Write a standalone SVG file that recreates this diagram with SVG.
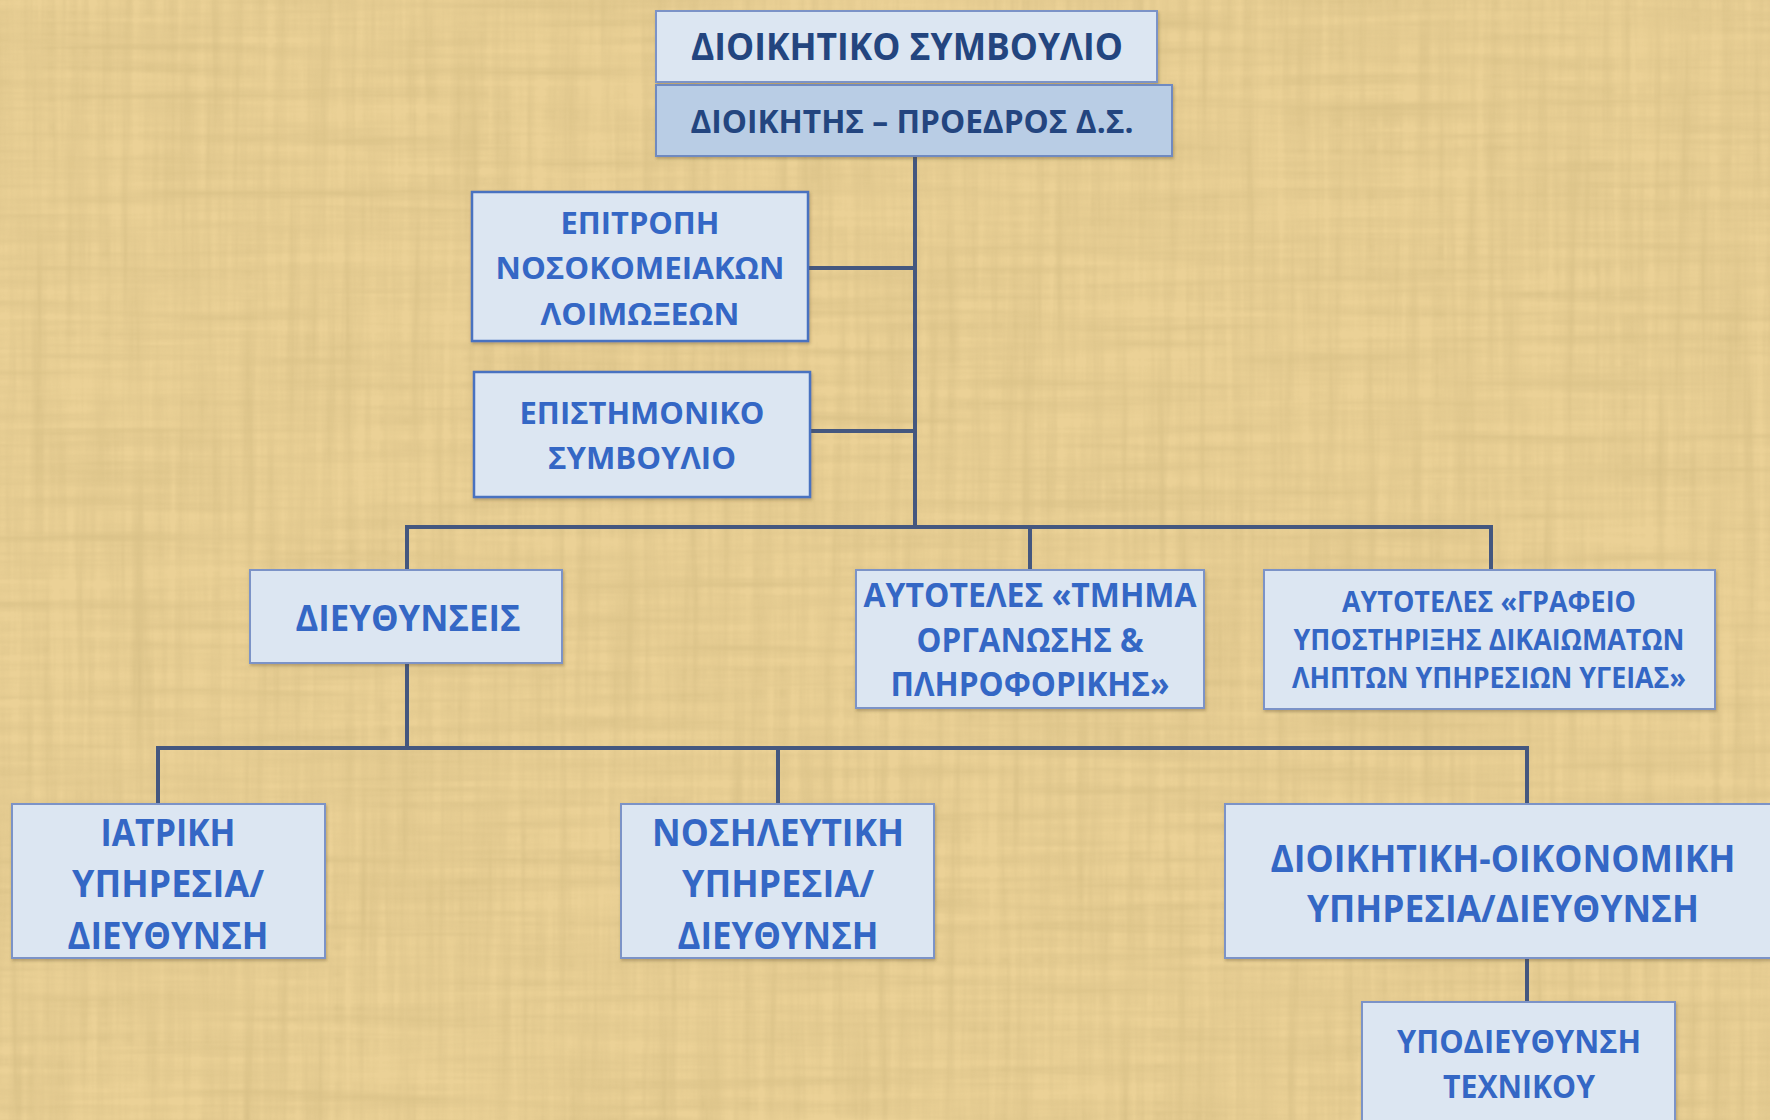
<svg xmlns="http://www.w3.org/2000/svg" width="1770" height="1120" viewBox="0 0 1770 1120">
<defs>
<filter id="paper" x="0" y="0" width="100%" height="100%">
<feTurbulence type="fractalNoise" baseFrequency="0.004 0.09" numOctaves="3" seed="4" result="n1"/>
<feTurbulence type="fractalNoise" baseFrequency="0.09 0.004" numOctaves="3" seed="9" result="n2"/>
<feBlend in="n1" in2="n2" mode="multiply" result="n"/>
<feColorMatrix in="n" type="matrix" values="0 0 0 0 0.55  0 0 0 0 0.42  0 0 0 0 0.18  -1.4 0 0 0 0.85"/>
</filter>
<filter id="sh" x="-5%" y="-5%" width="110%" height="115%">
<feDropShadow dx="1" dy="2" stdDeviation="1.5" flood-color="#5a4a2a" flood-opacity="0.35"/>
</filter>
<style>
.box{fill:#dce6f2;stroke:#7b93c7;stroke-width:2;filter:url(#sh)}
.boxb{fill:#dce6f2;stroke:#4a72c0;stroke-width:2.5;filter:url(#sh)}
.box2{fill:#b9cde5;stroke:#6f8ac0;stroke-width:2;filter:url(#sh)}
.t{font-family:"Open Sans","Noto Sans","DejaVu Sans",sans-serif;font-weight:700;fill:#3467c5;text-anchor:middle}
.td{font-family:"Open Sans","Noto Sans","DejaVu Sans",sans-serif;font-weight:700;fill:#23457f;text-anchor:middle}
.c{stroke:#44577f;stroke-width:4;fill:none;stroke-linecap:square}
</style>
</defs>
<rect width="1770" height="1120" fill="#ebd196"/>
<rect width="1770" height="1120" filter="url(#paper)" opacity="0.6"/>

<g id="connectors">
<path class="c" d="M915 156 V527"/>
<path class="c" d="M808 268 H915"/>
<path class="c" d="M810 431 H915"/>
<path class="c" d="M407 570 V527 H1491 V570"/>
<path class="c" d="M1030 527 V570"/>
<path class="c" d="M407 663 V748"/>
<path class="c" d="M158 804 V748 H1527 V804"/>
<path class="c" d="M778 748 V804"/>
<path class="c" d="M1527 958 V1002"/>
</g>

<g id="node-ds">
<rect class="box" x="656" y="11" width="501" height="71"/>
<text class="td" x="907" y="60" font-size="37" textLength="432" lengthAdjust="spacingAndGlyphs">ΔΙΟΙΚΗΤΙΚΟ ΣΥΜΒΟΥΛΙΟ</text>
</g>
<g id="node-dioikitis">
<rect class="box2" x="656" y="85" width="516" height="71"/>
<text class="td" x="912" y="133" font-size="32" textLength="443" lengthAdjust="spacingAndGlyphs">ΔΙΟΙΚΗΤΗΣ – ΠΡΟΕΔΡΟΣ Δ.Σ.</text>
</g>
<g id="node-epitropi">
<rect class="boxb" x="472" y="192" width="336" height="149"/>
<text class="t" x="640" y="234" font-size="31" textLength="159" lengthAdjust="spacingAndGlyphs">ΕΠΙΤΡΟΠΗ</text>
<text class="t" x="640" y="279" font-size="31" textLength="289" lengthAdjust="spacingAndGlyphs">ΝΟΣΟΚΟΜΕΙΑΚΩΝ</text>
<text class="t" x="640" y="325" font-size="31" textLength="199" lengthAdjust="spacingAndGlyphs">ΛΟΙΜΩΞΕΩΝ</text>
</g>
<g id="node-epistimoniko">
<rect class="boxb" x="474" y="372" width="336" height="125"/>
<text class="t" x="642" y="424" font-size="31" textLength="245" lengthAdjust="spacingAndGlyphs">ΕΠΙΣΤΗΜΟΝΙΚΟ</text>
<text class="t" x="642" y="469" font-size="31" textLength="188" lengthAdjust="spacingAndGlyphs">ΣΥΜΒΟΥΛΙΟ</text>
</g>
<g id="node-dieythynseis">
<rect class="box" x="250" y="570" width="312" height="93"/>
<text class="t" x="408" y="631" font-size="35" textLength="225" lengthAdjust="spacingAndGlyphs">ΔΙΕΥΘΥΝΣΕΙΣ</text>
</g>
<g id="node-tmima">
<rect class="box" x="856" y="570" width="348" height="138"/>
<text class="t" x="1030" y="607" font-size="34" textLength="333" lengthAdjust="spacingAndGlyphs">ΑΥΤΟΤΕΛΕΣ «ΤΜΗΜΑ</text>
<text class="t" x="1030" y="652" font-size="34" textLength="227" lengthAdjust="spacingAndGlyphs">ΟΡΓΑΝΩΣΗΣ &amp;</text>
<text class="t" x="1030" y="696" font-size="34" textLength="279" lengthAdjust="spacingAndGlyphs">ΠΛΗΡΟΦΟΡΙΚΗΣ»</text>
</g>
<g id="node-grafeio">
<rect class="box" x="1264" y="570" width="451" height="139"/>
<text class="t" x="1489" y="612" font-size="28" textLength="294" lengthAdjust="spacingAndGlyphs">ΑΥΤΟΤΕΛΕΣ «ΓΡΑΦΕΙΟ</text>
<text class="t" x="1489" y="650" font-size="28" textLength="391" lengthAdjust="spacingAndGlyphs">ΥΠΟΣΤΗΡΙΞΗΣ ΔΙΚΑΙΩΜΑΤΩΝ</text>
<text class="t" x="1489" y="688" font-size="28" textLength="394" lengthAdjust="spacingAndGlyphs">ΛΗΠΤΩΝ ΥΠΗΡΕΣΙΩΝ ΥΓΕΙΑΣ»</text>
</g>
<g id="node-iatriki">
<rect class="box" x="12" y="804" width="313" height="154"/>
<text class="t" x="168" y="846" font-size="38" textLength="135" lengthAdjust="spacingAndGlyphs">ΙΑΤΡΙΚΗ</text>
<text class="t" x="168" y="897" font-size="38" textLength="192" lengthAdjust="spacingAndGlyphs">ΥΠΗΡΕΣΙΑ/</text>
<text class="t" x="168" y="949" font-size="38" textLength="201" lengthAdjust="spacingAndGlyphs">ΔΙΕΥΘΥΝΣΗ</text>
</g>
<g id="node-nosileftiki">
<rect class="box" x="621" y="804" width="313" height="154"/>
<text class="t" x="778" y="846" font-size="38" textLength="252" lengthAdjust="spacingAndGlyphs">ΝΟΣΗΛΕΥΤΙΚΗ</text>
<text class="t" x="778" y="897" font-size="38" textLength="192" lengthAdjust="spacingAndGlyphs">ΥΠΗΡΕΣΙΑ/</text>
<text class="t" x="778" y="949" font-size="38" textLength="201" lengthAdjust="spacingAndGlyphs">ΔΙΕΥΘΥΝΣΗ</text>
</g>
<g id="node-dioikitiki">
<rect class="box" x="1225" y="804" width="552" height="154"/>
<text class="t" x="1503" y="872" font-size="38" textLength="465" lengthAdjust="spacingAndGlyphs">ΔΙΟΙΚΗΤΙΚΗ-ΟΙΚΟΝΟΜΙΚΗ</text>
<text class="t" x="1503" y="922" font-size="38" textLength="392" lengthAdjust="spacingAndGlyphs">ΥΠΗΡΕΣΙΑ/ΔΙΕΥΘΥΝΣΗ</text>
</g>
<g id="node-texniko">
<rect class="box" x="1362" y="1002" width="313" height="130"/>
<text class="t" x="1519" y="1053" font-size="33" textLength="244" lengthAdjust="spacingAndGlyphs">ΥΠΟΔΙΕΥΘΥΝΣΗ</text>
<text class="t" x="1519" y="1098" font-size="33" textLength="152" lengthAdjust="spacingAndGlyphs">ΤΕΧΝΙΚΟΥ</text>
</g>
</svg>
